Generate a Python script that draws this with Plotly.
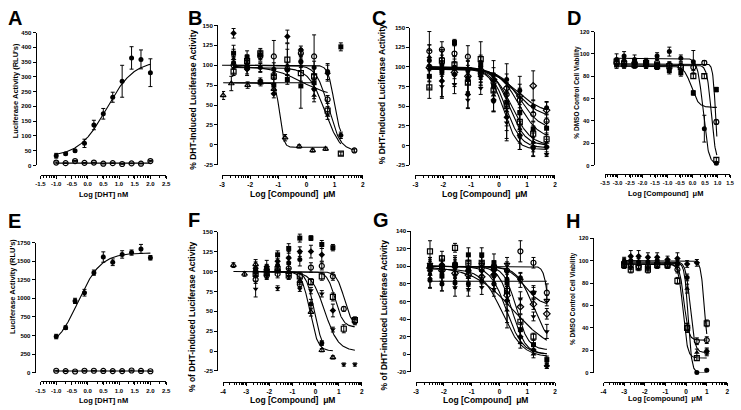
import numpy as np
import plotly.graph_objects as go

W, H = 741, 410

# ---------------- data ----------------
# Panel A / E : DHT dose response (log nM)
A_X = [-1.0, -0.7, -0.4, -0.1, 0.2, 0.5, 0.8, 1.1, 1.4, 1.7, 2.0]
A_DHT = [33, 40, 50, 75, 137, 175, 231, 285, 364, 359, 314]
A_DHT_ERR = [8, 4, 4, 14, 16, 18, 17, 54, 38, 32, 47]
A_DHT_FIT = [355, 30, 0.6, -1.0, -1.0, 2.0]   # high, low, logX50, slope, from, to
A_VEH = [10, 8, 15, 9, 10, 6, 8, 5, 7, 6, 15]
A_VEH_ERR = [2, 1, 2, 1, 1, 1, 1, 1, 1, 1, 2]
A_VEH_FIT = [8, 8, 0.0, 1.0, -1.0, 2.0]

E_X = [-1.0, -0.7, -0.4, -0.1, 0.2, 0.5, 0.8, 1.1, 1.4, 1.7, 2.0]
E_DHT = [485, 605, 965, 1075, 1345, 1555, 1485, 1590, 1615, 1665, 1545]
E_DHT_ERR = [30, 25, 35, 45, 35, 70, 45, 50, 35, 60, 30]
E_DHT_FIT = [1610, 300, -0.3, -1.2, -1.0, 2.0]
E_VEH = [25, 20, 15, 25, 25, 22, 20, 20, 28, 22, 18]
E_VEH_ERR = [6, 5, 5, 6, 5, 5, 5, 5, 6, 5, 5]
E_VEH_FIT = [22, 22, 0.0, 1.0, -1.0, 2.0]

# Panel B
B_X = [-2.59, -2.11, -1.64, -1.16, -0.68, -0.20, 0.27, 0.75, 1.22, 1.70]
B_TRI_X = [-2.96, -2.67, -2.09, -1.63, -1.16, -0.76, -0.26, 0.22, 0.68]
B_TRI = [62, 77, 75, 78, 70, 9, -2, -7, -5]
B_TRI_ERR = [5, 9, 4, 4, 6, 4, 2, 2, 2]
B_TRI_FIT = [78, -3, -0.95, 6, -2.96, 0.68]
B_FC = [103, 100, 97, 95, 94, 105, 97, 92, 12, None]
B_FC_ERR = [8, 6, 5, 8, 6, 6, 8, 10, 4, 0]
B_FC_FIT = [100, 8, 0.98, 4, -3.0, 1.22]
B_OC = [100, 97, 111, 111, 95, 115, 111, 57, None, -7]
B_OC_ERR = [10, 8, 6, 20, 8, 6, 27, 5, 0, 2]
B_OC_FIT = [100, -8, 0.78, 2, -2.59, 1.70]
B_OS = [92, 105, 115, 86, 107, 90, 86, 43, -11, None]
B_OS_ERR = [5, 8, 6, 10, 20, 10, 10, 5, 2, 0]
B_OS_FIT = [97, -12, 0.65, 1.5, -2.59, 1.22]
B_FD = [140, 95, 80, 64, 136, 119, 70, 90, None, None]
B_FD_ERR = [6, 8, 4, 5, 8, 5, 12, 10, 0, 0]
B_FD_FIT = [99, 60, -0.2, 0.8, -2.59, 0.75]
B_FS = [115, 110, 113, 75, 82, 74, 78, None, 123, None]
B_FS_ERR = [10, 8, 6, 10, 6, 28, 10, 0, 5, 0]
B_FS_FIT = [78, 78, 0.0, 1.0, -2.59, 0.27]
B_FT = [108, 100, 97, 88, 100, 105, 62, 37, None, None]
B_FT_ERR = [12, 6, 6, 6, 20, 8, 8, 5, 0, 0]

# Panel C
C_X = [-2.5, -2.05, -1.6, -1.12, -0.66, -0.2, 0.27, 0.74, 1.22, 1.7]
C_S1 = [108, 103, 100, 95, 100, 90, 84, 70, 50, 48]
C_S1_ERR = [20, 12, 10, 12, 15, 18, 20, 18, 8, 8]
C_S1_FIT = [100, 40, 0.6, 0.9, -2.5, 1.7]
C_S2 = [99, 98, 93, 88, 96, 84, 73, 63, 76, 45]
C_S2_ERR = [12, 10, 8, 10, 12, 15, 18, 15, 19, 10]
C_S2_FIT = [100, 35, 0.6, 1.0, -2.5, 1.7]
C_S3 = [120, 122, 117, 113, 92, 80, 65, 58, 40, 31]
C_S3_ERR = [25, 10, 10, 14, 12, 12, 15, 15, 10, 8]
C_S3_FIT = [97, 20, 0.75, 1.2, -2.5, 1.7]
C_S4 = [88, 95, 131, 84, 103, 76, 55, 42, 21, 22]
C_S4_ERR = [15, 12, 4, 18, 10, 12, 20, 20, 10, 8]
C_S4_FIT = [98, 8, 0.7, 1.2, -2.5, 1.7]
C_S5 = [74, 108, 103, 80, 110, 70, 50, 30, 15, 8]
C_S5_ERR = [14, 12, 10, 12, 22, 15, 25, 12, 10, 8]
C_S5_FIT = [99, 0, 0.45, 1.3, -2.5, 1.7]
C_S6 = [113, 92, 96, 88, 92, 64, 44, 21, 4, 4]
C_S6_ERR = [15, 30, 18, 20, 15, 20, 25, 18, 12, 8]
C_S6_FIT = [100, 0, 0.35, 1.5, -2.5, 1.7]
C_S7 = [101, 82, 90, 65, 88, 58, 36, 13, -2, -2]
C_S7_ERR = [20, 20, 15, 18, 12, 15, 30, 18, 12, 10]
C_S7_FIT = [98, -3, 0.25, 1.6, -2.5, 1.7]
C_S8 = [97, 75, 78, 58, 73, 55, 29, 10, -5, -11]
C_S8_ERR = [15, 15, 12, 10, 8, 12, 20, 15, 8, 3]
C_S8_FIT = [97, -5, 0.15, 1.8, -2.5, 1.7]

# Panel D
D_X = [-3.04, -2.74, -2.32, -1.86, -1.42, -0.93, -0.47, 0.03, 0.47, 0.95]
D_FC = [95, 98, 95, 93, 98, 102, 96, 93, 33, 2]
D_FC_ERR = [5, 4, 4, 3, 3, 4, 3, 10, 12, 1]
D_FC_FIT = [96, 1, 0.42, 4, -3.04, 0.97]
D_OC = [92, 93, 92, 90, 92, 90, 89, 88, 92, 39]
D_OC_ERR = [3, 3, 3, 3, 3, 3, 3, 3, 2, 2]
D_OC_FIT = [91, 0, 0.92, 8, -3.04, 0.97]
D_OS = [93, 91, 90, 92, 89, 89, 88, 80, 80, 5]
D_OS_ERR = [3, 3, 3, 3, 3, 3, 3, 2, 2, 2]
D_OS_FIT = [90, 3, 0.75, 5, -3.04, 0.97]
D_FS = [90, 90, 92, 90, 89, 85, 83, 65, None, 68]
D_FS_ERR = [3, 3, 3, 3, 3, 3, 3, 2, 0, 2]
D_FS_FIT = [89, 52, -0.05, 3, -3.04, 0.97]

# Panel F
F_X = [-2.59, -2.11, -1.64, -1.16, -0.68, -0.20, 0.27, 0.75, 1.22, 1.70]
F_TRI_X = [-3.55, -3.07, -2.59, -2.11, -1.64, -1.16, -0.68, -0.20, 0.27, 0.75]
F_TRI = [108, 97, 109, 104, 103, 99, 88, 49, 1, -8]
F_TRI_ERR = [3, 3, 6, 4, 4, 5, 4, 5, 2, 2]
F_TRI_FIT = [100, 0, -0.25, 2.5, -3.55, 0.75]
F_FC = [100, 101, 108, 111, 115, 59, 10, None, None, None]
F_FC_ERR = [5, 5, 5, 8, 8, 6, 3, 0, 0, 0]
F_FC_FIT = [100, 0, -0.05, 2.5, -2.59, 0.27]
F_TD = [78, 95, 79, 94, 78, 76, 72, 27, -17, -17]
F_TD_ERR = [10, 4, 3, 4, 3, 4, 4, 3, 2, 2]
F_TD_FIT = [100, 0, 0.4, 1.5, -2.59, 1.70]
F_OS = [97, 98, 103, 95, 94, 87, 94, 68, 28, 39]
F_OS_ERR = [5, 5, 5, 4, 5, 4, 5, 5, 5, 4]
F_OS_FIT = [100, 30, 0.85, 2.5, -2.59, 1.70]
F_OC = [90, 95, 97, 104, 84, 105, 107, 94, 53, 37]
F_OC_ERR = [5, 5, 5, 5, 4, 6, 5, 5, 3, 4]
F_OC_FIT = [100, 30, 1.25, 2.5, -2.59, 1.70]
F_FS = [100, 104, 121, 129, 142, 142, 134, 130, None, None]
F_FS_ERR = [6, 5, 5, 6, 5, 3, 5, 4, 0, 0]
F_FD = [104, 106, 113, 117, 125, 125, 121, 51, None, None]
F_FD_ERR = [8, 8, 6, 8, 6, 8, 8, 8, 0, 0]

# Panel G
G_X = [-2.5, -2.07, -1.6, -1.12, -0.64, -0.2, 0.27, 0.75, 1.22, 1.7]
G_S1 = [100, 98, 102, 95, 98, 100, 95, 117, 104, 70]
G_S1_ERR = [10, 8, 6, 8, 8, 6, 8, 12, 6, 10]
G_S1_FIT = [100, 0, 1.78, 5, -2.5, 1.7]
G_S2 = [84, 80, 81, 80, 83, 80, 85, 87, 70, None]
G_S2_ERR = [8, 8, 6, 8, 6, 8, 8, 6, 6, 0]
G_S2_FIT = [83, 83, 0.0, 1.0, -2.5, 1.7]
G_S3 = [117, 109, 121, 104, 104, 98, 72, 37, 20, None]
G_S3_ERR = [12, 8, 5, 8, 8, 8, 10, 8, 4, 0]
G_S3_FIT = [100, 0, 0.45, 1.8, -2.5, 1.7]
G_S4 = [95, 102, 100, 95, 95, 91, 61, 20, 5, -13]
G_S4_ERR = [8, 10, 12, 12, 10, 10, 25, 8, 5, 3]
G_S4_FIT = [100, 0, 0.25, 1.5, -2.5, 1.7]
G_S5 = [91, 95, 91, 87, 95, 81, 50, 13, 0, -13]
G_S5_ERR = [8, 8, 8, 10, 8, 10, 20, 6, 4, 3]
G_S5_FIT = [97, -3, 0.1, 1.2, -2.5, 1.7]
G_S6 = [100, 89, 102, 113, 113, 104, 81, 28, 11, -6]
G_S6_ERR = [8, 10, 8, 8, 8, 10, 10, 8, 5, 4]
G_S6_FIT = [100, 5, 0.6, 2.0, -2.5, 1.7]
G_S7 = [85, 82, 76, 74, 76, 74, 95, 63, 43, 26]
G_S7_ERR = [10, 10, 10, 8, 8, 8, 10, 8, 5, 8]
G_S7_FIT = [100, 10, 1.2, 1.5, -2.5, 1.7]
G_S8 = [98, 95, 92, 90, 88, 90, 67, 54, 57, 46]
G_S8_ERR = [8, 8, 8, 8, 8, 8, 10, 8, 6, 6]
G_S8_FIT = [100, 0, 0.5, 0.6, -2.5, 1.7]
G_S9 = [102, 100, 98, 98, 102, 95, 102, 84, 70, 61]
G_S9_ERR = [8, 8, 8, 8, 8, 8, 8, 8, 8, 6]
G_S9_FIT = [100, 55, 0.9, 1.5, -2.5, 1.7]

# Panel H
H_X = [-3.0, -2.68, -2.3, -1.85, -1.4, -0.9, -0.42, 0.05, 0.52, 1.0]
H_FD = [99, 104, 104, 103, 103, 101, 102, 97, 98, 19]
H_FD_ERR = [3, 5, 5, 4, 4, 3, 5, 3, 3, 3]
H_FD_FIT = [100, 18, 0.88, 5, -3.0, 1.0]
H_OS = [96, 92, 94, 92, 96, 96, 82, 40, 13, 44]
H_OS_ERR = [3, 3, 3, 3, 3, 3, 3, 4, 2, 3]
H_OS_FIT = [97, 13, -0.15, 4, -3.0, 1.0]
H_FC = [98, 100, 99, 99, 100, 98, 97, 85, 0, 2]
H_FC_ERR = [3, 3, 3, 3, 3, 3, 3, 3, 1, 1]
H_FC_FIT = [98, 0, 0.1, 5, -3.0, 1.0]
H_OC = [97, 96, 95, 95, 97, 96, 92, 40, 28, 29]
H_OC_ERR = [3, 3, 3, 3, 3, 3, 3, 4, 3, 3]
H_OC_FIT = [97, 29, -0.1, 4, -3.0, 1.0]
H_FT = [100, 95, 96, 94, 98, 97, 99, 75, 18, 18]
H_FT_ERR = [3, 3, 3, 3, 3, 3, 3, 4, 3, 3]
H_FT_FIT = [99, 18, 0.2, 4, -3.0, 1.0]

# Axis tick labels
A_XTICKS = ["-1.5", "-1.0", "-0.5", "0.0", "0.5", "1.0", "1.5", "2.0", "2.5"]
A_YTICKS = [0, 50, 100, 150, 200, 250, 300, 350, 400, 450]
E_YTICKS = [0, 250, 500, 750, 1000, 1250, 1500, 1750]
BC_XTICKS = [-3, -2, -1, 0, 1, 2]
BCF_YTICKS = [-25, 0, 25, 50, 75, 100, 125, 150]
D_XTICKS = ["-3.5", "-3.0", "-2.5", "-2.0", "-1.5", "-1.0", "-0.5", "0.0", "0.5", "1.0", "1.5"]
DH_YTICKS = [0, 20, 40, 60, 80, 100, 120]
FH_XTICKS = [-4, -3, -2, -1, 0, 1, 2]
G_YTICKS = [-20, 0, 20, 40, 60, 80, 100, 120, 140]

# ---------------- layout geometry (pixels) ----------------
GEOM = {
    1: dict(x0=36, x1=163.3, y0=164.3, y1=29, xline=173.5, yline=31),
    2: dict(x0=220, x1=362.7, y0=163.6, y1=21.7, xline=174, yline=215),
    3: dict(x0=416, x1=557.5, y0=164, y1=24, xline=174, yline=410),
    4: dict(x0=608.3, x1=735, y0=164.3, y1=28, xline=173.3, yline=596.7),
    5: dict(x0=36, x1=163.3, y0=375, y1=242.7, xline=384, yline=30),
    6: dict(x0=221, x1=361.7, y0=373.3, y1=231.7, xline=385, yline=215),
    7: dict(x0=416.7, x1=557.7, y0=374.3, y1=231, xline=385, yline=411),
    8: dict(x0=606.7, x1=732.3, y0=375, y1=238.3, xline=385, yline=595.7),
}

XT = {
    1: ([float(t) for t in A_XTICKS], A_XTICKS),
    2: (BC_XTICKS, [str(t) for t in BC_XTICKS]),
    3: (BC_XTICKS, [str(t) for t in BC_XTICKS]),
    4: ([float(t) for t in D_XTICKS], D_XTICKS),
    5: ([float(t) for t in A_XTICKS], A_XTICKS),
    6: (FH_XTICKS, [str(t) for t in FH_XTICKS]),
    7: (BC_XTICKS, [str(t) for t in BC_XTICKS]),
    8: (FH_XTICKS, [str(t) for t in FH_XTICKS]),
}
YT = {1: A_YTICKS, 2: BCF_YTICKS, 3: BCF_YTICKS, 4: DH_YTICKS,
      5: E_YTICKS, 6: BCF_YTICKS, 7: G_YTICKS, 8: DH_YTICKS}
XFONT = {1: 6, 2: 6.5, 3: 6.5, 4: 5.6, 5: 6, 6: 6.5, 7: 6.5, 8: 6.5}
YFONT = {1: 6, 2: 6.2, 3: 6.2, 4: 5.8, 5: 6, 6: 6.2, 7: 6.2, 8: 5.8}

SERIES = [
    (1, A_X, A_DHT, A_DHT_ERR, "circle", A_DHT_FIT),
    (1, A_X, A_VEH, A_VEH_ERR, "circle-open", A_VEH_FIT),
    (5, E_X, E_DHT, E_DHT_ERR, "circle", E_DHT_FIT),
    (5, E_X, E_VEH, E_VEH_ERR, "circle-open", E_VEH_FIT),
    (2, B_TRI_X, B_TRI, B_TRI_ERR, "triangle-up-open", B_TRI_FIT),
    (2, B_X, B_FC, B_FC_ERR, "circle", B_FC_FIT),
    (2, B_X, B_OC, B_OC_ERR, "circle-open", B_OC_FIT),
    (2, B_X, B_OS, B_OS_ERR, "square-open", B_OS_FIT),
    (2, B_X, B_FD, B_FD_ERR, "diamond", B_FD_FIT),
    (2, B_X, B_FS, B_FS_ERR, "square", B_FS_FIT),
    (2, B_X, B_FT, B_FT_ERR, "triangle-up", None),
    (3, C_X, C_S1, C_S1_ERR, "circle", C_S1_FIT),
    (3, C_X, C_S2, C_S2_ERR, "diamond-open", C_S2_FIT),
    (3, C_X, C_S3, C_S3_ERR, "circle-open", C_S3_FIT),
    (3, C_X, C_S4, C_S4_ERR, "square", C_S4_FIT),
    (3, C_X, C_S5, C_S5_ERR, "square-open", C_S5_FIT),
    (3, C_X, C_S6, C_S6_ERR, "triangle-up", C_S6_FIT),
    (3, C_X, C_S7, C_S7_ERR, "diamond", C_S7_FIT),
    (3, C_X, C_S8, C_S8_ERR, "triangle-down", C_S8_FIT),
    (4, D_X, D_FC, D_FC_ERR, "circle", D_FC_FIT),
    (4, D_X, D_OC, D_OC_ERR, "circle-open", D_OC_FIT),
    (4, D_X, D_OS, D_OS_ERR, "square-open", D_OS_FIT),
    (4, D_X, D_FS, D_FS_ERR, "square", D_FS_FIT),
    (6, F_TRI_X, F_TRI, F_TRI_ERR, "triangle-up-open", F_TRI_FIT),
    (6, F_X, F_FC, F_FC_ERR, "circle", F_FC_FIT),
    (6, F_X, F_TD, F_TD_ERR, "triangle-down", F_TD_FIT),
    (6, F_X, F_OS, F_OS_ERR, "square-open", F_OS_FIT),
    (6, F_X, F_OC, F_OC_ERR, "circle-open", F_OC_FIT),
    (6, F_X, F_FS, F_FS_ERR, "square", None),
    (6, F_X, F_FD, F_FD_ERR, "diamond", None),
    (7, G_X, G_S1, G_S1_ERR, "circle-open", G_S1_FIT),
    (7, G_X, G_S2, G_S2_ERR, "circle", G_S2_FIT),
    (7, G_X, G_S3, G_S3_ERR, "square-open", G_S3_FIT),
    (7, G_X, G_S4, G_S4_ERR, "diamond", G_S4_FIT),
    (7, G_X, G_S5, G_S5_ERR, "triangle-up", G_S5_FIT),
    (7, G_X, G_S6, G_S6_ERR, "square", G_S6_FIT),
    (7, G_X, G_S7, G_S7_ERR, "triangle-down", G_S7_FIT),
    (7, G_X, G_S8, G_S8_ERR, "diamond-open", G_S8_FIT),
    (7, G_X, G_S9, G_S9_ERR, "triangle-down-open", G_S9_FIT),
    (8, H_X, H_FD, H_FD_ERR, "diamond", H_FD_FIT),
    (8, H_X, H_OS, H_OS_ERR, "square-open", H_OS_FIT),
    (8, H_X, H_FC, H_FC_ERR, "circle", H_FC_FIT),
    (8, H_X, H_OC, H_OC_ERR, "circle-open", H_OC_FIT),
    (8, H_X, H_FT, H_FT_ERR, "triangle-up", H_FT_FIT),
]


def fit_curve(p):
    high, low, x50, slope, lo, hi = p
    xs = np.linspace(lo, hi, 300)
    ys = low + (high - low) / (1 + 10 ** ((xs - x50) * slope))
    return xs, ys


fig = go.Figure()

for panel, xs, ys, err, sym, fit in SERIES:
    xa = "x" if panel == 1 else f"x{panel}"
    ya = "y" if panel == 1 else f"y{panel}"
    if fit is not None:
        cx, cy = fit_curve(fit)
        fig.add_trace(go.Scatter(x=cx, y=cy, mode="lines", xaxis=xa, yaxis=ya,
                                 line=dict(color="black", width=1.1),
                                 hoverinfo="skip", showlegend=False))
    if sym.endswith("open"):
        marker = dict(symbol=sym, color="black", size=5, line=dict(color="black", width=1.2))
    else:
        marker = dict(symbol=sym, color="black", size=5, line=dict(width=0))
    fig.add_trace(go.Scatter(
        x=xs, y=ys, mode="markers", xaxis=xa, yaxis=ya, marker=marker,
        error_y=dict(type="data", array=err, visible=True, color="black",
                     thickness=1, width=2),
        cliponaxis=False, showlegend=False))


def minor_vals(lo, hi):
    out = []
    for d in range(int(np.floor(lo)) - 1, int(np.ceil(hi)) + 1):
        for k in range(2, 10):
            v = d + np.log10(k)
            if lo < v < hi:
                out.append(v)
    return out


FONT = "Liberation Sans, Arial, sans-serif"
layout = dict(width=W, height=H, margin=dict(l=0, r=0, t=0, b=0),
              paper_bgcolor="white", plot_bgcolor="rgba(0,0,0,0)",
              showlegend=False, font=dict(family=FONT, color="black"))

for i, g in GEOM.items():
    xk = "xaxis" if i == 1 else f"xaxis{i}"
    yk = "yaxis" if i == 1 else f"yaxis{i}"
    tv, tt = XT[i]
    yv = YT[i]
    xr = [tv[0], tv[-1]]
    layout[xk] = dict(
        domain=[g["x0"] / W, g["x1"] / W], range=xr, anchor="free",
        position=1 - g["xline"] / H, showline=True, linecolor="black", linewidth=1,
        ticks="outside", ticklen=3, tickwidth=1, tickcolor="black",
        tickmode="array", tickvals=tv, ticktext=tt, tickangle=0,
        tickfont=dict(size=XFONT[i], family=FONT, weight="bold"),
        showgrid=False, zeroline=False, fixedrange=True,
        minor=dict(tickmode="array", tickvals=minor_vals(xr[0], xr[1]), ticks="outside",
                   ticklen=2, tickwidth=0.8, tickcolor="black", showgrid=False))
    layout[yk] = dict(
        domain=[1 - g["y0"] / H, 1 - g["y1"] / H], range=[yv[0], yv[-1]], anchor="free",
        position=g["yline"] / W, showline=True, linecolor="black", linewidth=1,
        ticks="outside", ticklen=3, tickwidth=1, tickcolor="black",
        tickmode="array", tickvals=yv, ticktext=[str(v) for v in yv],
        tickfont=dict(size=YFONT[i], family=FONT, weight="bold"),
        showgrid=False, zeroline=False, fixedrange=True)

LETTERS = [("A", 1, 1), ("B", 183, 1), ("C", 370, 1), ("D", 568, 1),
           ("E", 1, 208), ("F", 183, 207), ("G", 371, 207), ("H", 567, 208)]
XTITLES = [("Log [DHT] nM", 100, 193.5, 7.5), ("Log [Compound]  μM", 291, 193.5, 8.5),
           ("Log [Compound]  μM", 486, 193.5, 8.5), ("Log [Compound]  μM", 670, 193, 7.5),
           ("Log [DHT] nM", 100, 403, 7.5), ("Log [Compound]  μM", 291, 403, 8.5),
           ("Log [Compound]  μM", 487, 403, 8.5), ("Log [compound]  μM", 669, 401, 7.5)]
YTITLES = [("Luciferase Activity (RLU's)", 11, 88, 7.5),
           ("% DHT-Induced Luciferase Activity", 191, 97, 8.5),
           ("% DHT-Induced Luciferase Activity", 383, 92, 8.5),
           ("% DMSO Control Cell Viability", 580, 90, 6.5),
           ("Luciferase Activity (RLU's)", 7, 287, 7.5),
           ("% of DHT-induced Luciferase Activity", 189, 318, 8.5),
           ("% of DHT-induced Luciferase Activity", 384, 316, 8.5),
           ("% DMSO Control Cell Viability", 576, 300, 6.5)]

ann = []
for t, x, y in LETTERS:
    ann.append(dict(text=t, x=x / W, y=1 - y / H, xref="paper", yref="paper",
                    xanchor="left", yanchor="top", showarrow=False,
                    font=dict(size=20, family=FONT, weight="bold")))
for t, x, y, s in XTITLES:
    ann.append(dict(text=t, x=x / W, y=1 - y / H, xref="paper", yref="paper",
                    xanchor="center", yanchor="middle", showarrow=False,
                    font=dict(size=s, family=FONT, weight="bold")))
for t, x, y, s in YTITLES:
    ann.append(dict(text=t, x=x / W, y=1 - y / H, xref="paper", yref="paper",
                    xanchor="center", yanchor="middle", showarrow=False, textangle=-90,
                    font=dict(size=s, family=FONT, weight="bold")))
layout["annotations"] = ann

fig.update_layout(**layout)
fig.write_html("out.html", config={"displayModeBar": False},
               post_script="document.body.style.margin='0px';document.body.style.padding='0px';")
